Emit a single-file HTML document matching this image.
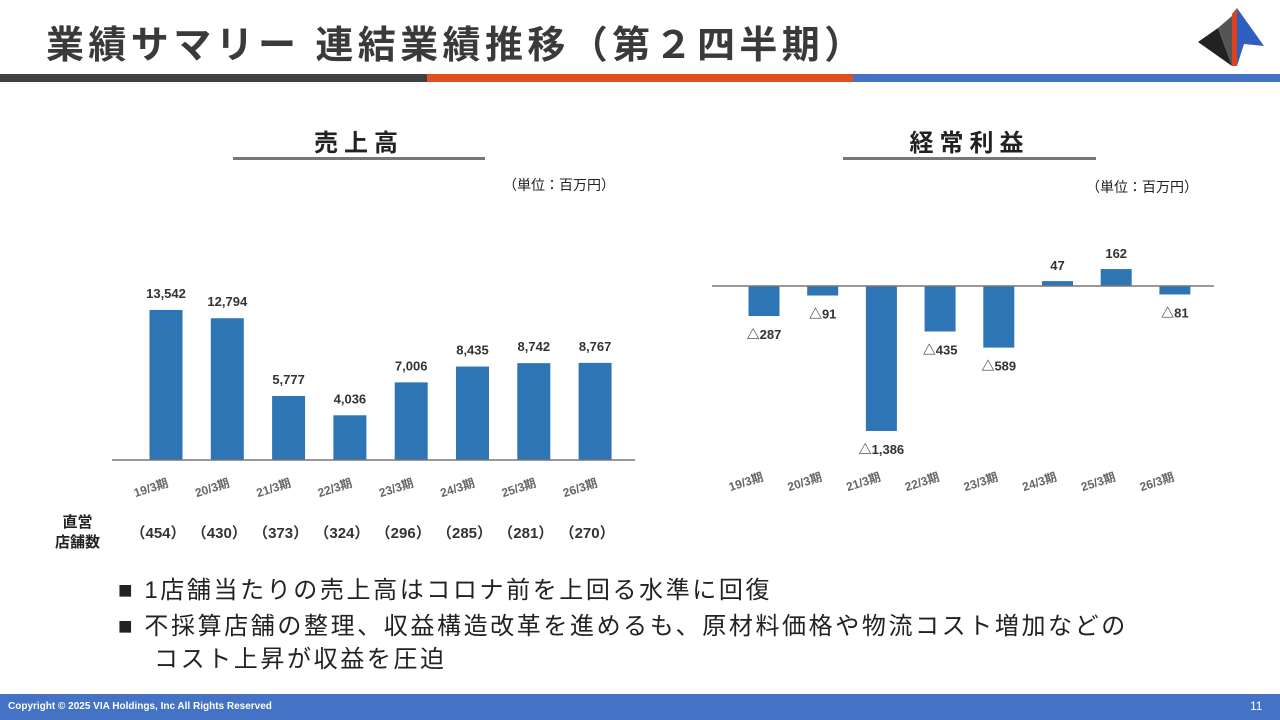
<!DOCTYPE html>
<html><head><meta charset="utf-8">
<style>
body{margin:0;width:1280px;height:720px;position:relative;background:#fff;font-family:"Liberation Sans","Noto Sans CJK JP",sans-serif;overflow:hidden;color:#222}
.abs{position:absolute}
</style></head><body>
<div class="abs" style="left:46px;top:14px;font-size:38px;letter-spacing:4.4px;font-weight:bold;color:#3a3a3a;white-space:nowrap">業績サマリー 連結業績推移（第２四半期）</div>
<svg class="abs" style="left:1196px;top:6px" width="70" height="64" viewBox="0 0 70 64">
<polygon points="2,36 22,22 36,60" fill="#222"/><polygon points="22,22 36,10 36,60" fill="#555"/>
<polygon points="36,8 41,2 41,60 36,60" fill="#e0401c"/><polygon points="41,2 68,40 48,38 41,60" fill="#2f5fbf"/>
</svg>
<div class="abs" style="left:0;top:74px;width:427px;height:8px;background:#404040"></div>
<div class="abs" style="left:427px;top:74px;width:426px;height:8px;background:#e0501f"></div>
<div class="abs" style="left:853px;top:74px;width:427px;height:8px;background:#4472c4"></div>

<div class="abs" style="left:233px;width:252px;top:123px;text-align:center;font-size:24px;font-weight:bold;letter-spacing:6px">売上高</div>
<div class="abs" style="left:233px;top:157px;width:252px;height:3px;background:#777"></div>
<div class="abs" style="left:843px;width:253px;top:123px;text-align:center;font-size:24px;font-weight:bold;letter-spacing:6px">経常利益</div>
<div class="abs" style="left:843px;top:157px;width:253px;height:3px;background:#777"></div>
<div class="abs" style="left:503px;top:175px;font-size:14px">（単位：百万円）</div>
<div class="abs" style="left:1086px;top:177px;font-size:14px">（単位：百万円）</div>

<svg id="chart" class="abs" style="left:0;top:0" width="1280" height="560"></svg>

<div class="abs" style="left:55px;top:513px;font-size:15px;font-weight:bold;line-height:20px;text-align:center">直営<br>店舗数</div>

<div class="abs" style="left:118px;top:570px;font-size:24px;letter-spacing:2.6px;white-space:nowrap">■&nbsp;1店舗当たりの売上高はコロナ前を上回る水準に回復</div>
<div class="abs" style="left:118px;top:610px;font-size:24px;letter-spacing:2.6px;line-height:33px;white-space:nowrap">■&nbsp;不採算店舗の整理、収益構造改革を進めるも、原材料価格や物流コスト増加などの<br><span style="padding-left:36px">コスト上昇が収益を圧迫</span></div>

<div class="abs" style="left:0;top:694px;width:1280px;height:26px;background:#4472c4"></div>
<div class="abs" style="left:8px;top:701px;font-size:10px;color:#fff;font-weight:bold">Copyright © 2025 VIA Holdings, Inc All Rights Reserved</div>
<div class="abs" style="left:1250px;top:699px;font-size:12px;color:#fff">11</div>

<script>
const categories=["19/3期","20/3期","21/3期","22/3期","23/3期","24/3期","25/3期","26/3期"];
const salesValues=[13542,12794,5777,4036,7006,8435,8742,8767];
const profitValues=[-287,-91,-1386,-435,-589,47,162,-81];
const storeCounts=[454,430,373,324,296,285,281,270];
const NS="http://www.w3.org/2000/svg";
const svg=document.getElementById('chart');
function mk(t,a,txt){const e=document.createElementNS(NS,t);for(const k in a)e.setAttribute(k,a[k]);if(txt!=null)e.textContent=txt;svg.appendChild(e);return e;}
function fmt(v){const s=Math.abs(v).toLocaleString('en-US');return v<0?'△'+s:s;}
const sx=i=>166+i*61.3, sy=v=>460-v*0.01108;
salesValues.forEach((v,i)=>{
 const r=mk('rect',{x:sx(i)-16.5,y:sy(v),width:33,height:460-sy(v),fill:'#2e75b6'});
 
 
 const t=mk('text',{x:sx(i),y:sy(v)-12,'text-anchor':'middle','font-size':13,'font-weight':'bold',fill:'#333'},fmt(v));
 
 
 const cx=sx(i)-15;
 const c=mk('text',{x:cx,y:492,'text-anchor':'middle','font-size':12,'font-weight':'bold',fill:'#666',transform:`rotate(-18 ${cx} 488)`},categories[i]);
 
 
 const s=mk('text',{x:sx(i)-8,y:538,'text-anchor':'middle','font-size':15,'font-weight':'bold',fill:'#333'},'（'+storeCounts[i]+'）');
 
 
});
const ax1=mk('line',{x1:112,x2:635,y1:460,y2:460,stroke:'#777','stroke-width':1.5});


const px=i=>764+i*58.7, py=v=>286-v*0.1046;
profitValues.forEach((v,i)=>{
 const y0=Math.min(py(v),286),h=Math.abs(py(v)-286);
 const r=mk('rect',{x:px(i)-15.5,y:y0,width:31,height:h,fill:'#2e75b6'});
 
 
 const ly=v<0?py(v)+23:py(v)-11;
 const t=mk('text',{x:px(i),y:ly,'text-anchor':'middle','font-size':13,'font-weight':'bold',fill:'#333'},fmt(v));
 
 
 const cx=px(i)-18;
 const c=mk('text',{x:cx,y:486,'text-anchor':'middle','font-size':12,'font-weight':'bold',fill:'#666',transform:`rotate(-18 ${cx} 482)`},categories[i]);
 
 
});
const ax2=mk('line',{x1:712,x2:1214,y1:286,y2:286,stroke:'#777','stroke-width':1.5});


</script>
</body></html>
